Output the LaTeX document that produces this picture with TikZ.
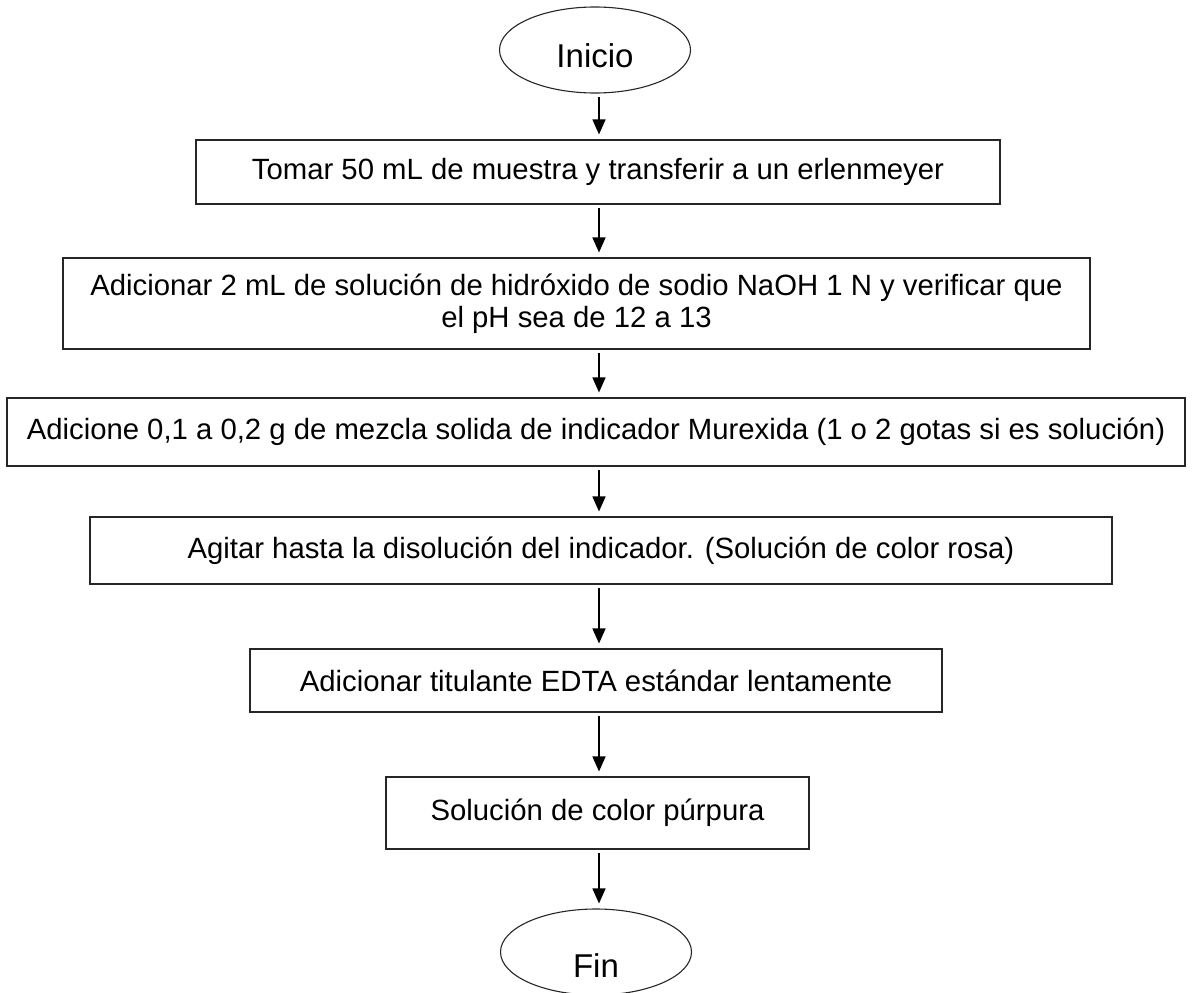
\documentclass[tikz,border=0pt]{standalone}
\usepackage{fontspec}
\setmainfont{Liberation Sans}
\usetikzlibrary{shapes.geometric,arrows.meta,positioning}

\begin{document}
\begin{tikzpicture}[x=1pt, y=-1pt,
        nodes={draw=black!85, line width=1.1pt, inner sep=0, font=\fontsize{29.3}{32}\selectfont},
        paso/.style={rectangle, align=center},
        terminal/.style={ellipse, minimum width=191pt, minimum height=86pt, text depth=0pt, font=\fontsize{33}{36}\selectfont},
        flecha/.style={-{Triangle[length=15pt, width=13pt]}, line width=1.6pt, shorten <=3pt, shorten >=5pt}]
        \useasboundingbox (0,0) rectangle (1192,993);
        \coordinate (eje) at (599,0);

        \node (inicio) [terminal, text height=34pt] at (595,50) {Inicio};
        \node (p1) [paso, minimum width=804pt, minimum height=64pt] at (598,172) {Tomar 50 mL de muestra y transferir a un erlenmeyer};
        \node (p2) [paso, minimum width=1027pt, minimum height=91pt] at (576.5,303.5) {Adicionar 2 mL de solución de hidróxido de sodio NaOH 1 N y verificar que\\el pH sea de 12 a 13};
        \node (p3) [paso, minimum width=1178pt, minimum height=68pt] at (596,432) {Adicione 0,1 a 0,2 g de mezcla solida de indicador Murexida (1 o 2 gotas si es solución)};
        \node (p4) [paso, minimum width=1022pt, minimum height=67pt] at (601,550.5) {Agitar hasta la disolución del indicador. (Solución de color rosa)};
        \node (p5) [paso, minimum width=692pt, minimum height=63pt] at (596,680.5) {Adicionar titulante EDTA estándar lentamente};
        \node (p6) [paso, minimum width=423pt, minimum height=72pt] at (597.5,813) {Solución de color púrpura};
        \node (fin) [terminal, text height=50pt] at (596,952) {Fin};

        \draw [flecha] (inicio.south -| eje) -- (p1.north -| eje);
        \draw [flecha] (p1.south -| eje) -- (p2.north -| eje);
        \draw [flecha] (p2.south -| eje) -- (p3.north -| eje);
        \draw [flecha] (p3.south -| eje) -- (p4.north -| eje);
        \draw [flecha] (p4.south -| eje) -- (p5.north -| eje);
        \draw [flecha] (p5.south -| eje) -- (p6.north -| eje);
        \draw [flecha] (p6.south -| eje) -- (fin.north -| eje);
    \end{tikzpicture}
\end{document}
